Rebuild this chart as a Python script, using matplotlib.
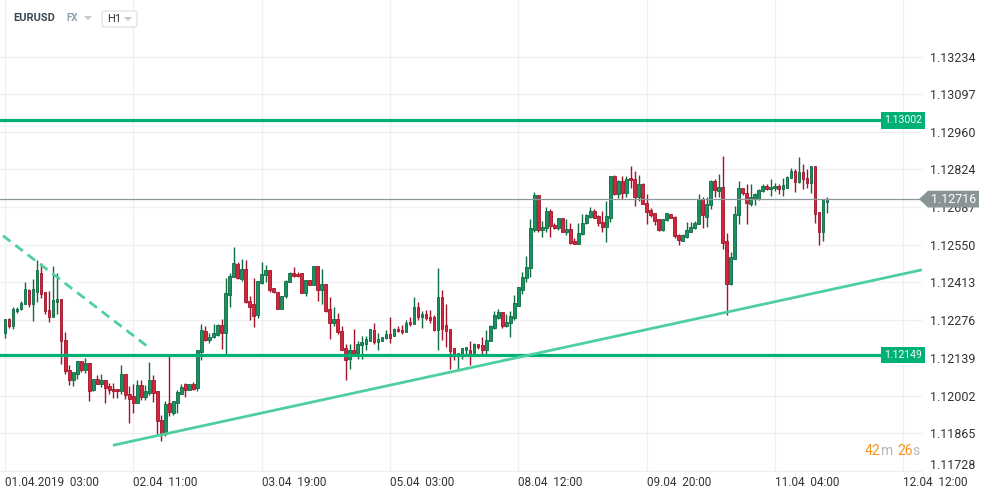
import matplotlib
matplotlib.use("Agg")
import matplotlib.pyplot as plt
import matplotlib.transforms as mtransforms
from matplotlib.patches import Polygon, FancyBboxPatch
import numpy as np

plt.rcParams['font.family'] = ['Roboto', 'DejaVu Sans']

# EURUSD H1 candles, 01.04.2019 03:00 onwards
opens = [
    1.12228, 1.12281, 1.12253, 1.12308, 1.12317, 1.12335, 1.12387, 1.12335, 1.12380, 1.12448,
    1.12377, 1.12313, 1.12287, 1.12341, 1.12353, 1.12205, 1.12096, 1.12059, 1.12081, 1.12126,
    1.12093, 1.12122, 1.12021, 1.12063, 1.12045, 1.12057, 1.12036, 1.12027, 1.12027, 1.12018,
    1.12079, 1.12009, 1.11999, 1.11975, 1.12039, 1.11997, 1.12011, 1.12057, 1.12017, 1.11912,
    1.11862, 1.11975, 1.11939, 1.11975, 1.12009, 1.12043, 1.12023, 1.12043, 1.12031, 1.12162,
    1.12238, 1.12204, 1.12214, 1.12222, 1.12257, 1.12230, 1.12367, 1.12432, 1.12480, 1.12426,
    1.12462, 1.12347, 1.12333, 1.12295, 1.12412, 1.12440, 1.12459, 1.12394, 1.12380, 1.12317,
    1.12365, 1.12414, 1.12448, 1.12444, 1.12448, 1.12375, 1.12422, 1.12404, 1.12474, 1.12386,
    1.12408, 1.12317, 1.12265, 1.12281, 1.12238, 1.12176, 1.12133, 1.12166, 1.12156, 1.12186,
    1.12190, 1.12202, 1.12241, 1.12196, 1.12202, 1.12212, 1.12224, 1.12217, 1.12244, 1.12241,
    1.12232, 1.12271, 1.12263, 1.12325, 1.12289, 1.12299, 1.12289, 1.12289, 1.12242, 1.12361,
    1.12257, 1.12244, 1.12174, 1.12148, 1.12152, 1.12168, 1.12166, 1.12156, 1.12188, 1.12184,
    1.12169, 1.12199, 1.12249, 1.12285, 1.12307, 1.12254, 1.12265, 1.12285, 1.12329, 1.12387,
    1.12428, 1.12464, 1.12603, 1.12732, 1.12604, 1.12611, 1.12673, 1.12623, 1.12611, 1.12647,
    1.12595, 1.12607, 1.12564, 1.12552, 1.12589, 1.12629, 1.12652, 1.12673, 1.12655, 1.12633,
    1.12616, 1.12649, 1.12800, 1.12734, 1.12782, 1.12740, 1.12794, 1.12788, 1.12725, 1.12770,
    1.12701, 1.12676, 1.12667, 1.12643, 1.12604, 1.12640, 1.12661, 1.12652, 1.12585, 1.12564,
    1.12580, 1.12598, 1.12611, 1.12625, 1.12716, 1.12651, 1.12695, 1.12782, 1.12746, 1.12760,
    1.12564, 1.12406, 1.12498, 1.12659, 1.12756, 1.12740, 1.12699, 1.12720, 1.12716, 1.12746,
    1.12764, 1.12752, 1.12756, 1.12764, 1.12752, 1.12758, 1.12792, 1.12820, 1.12779, 1.12814,
    1.12794, 1.12776, 1.12836, 1.12669, 1.12595, 1.12706,
]
closes = [
    1.12281, 1.12253, 1.12317, 1.12317, 1.12337, 1.12390, 1.12335, 1.12390, 1.12458, 1.12371,
    1.12308, 1.12287, 1.12349, 1.12353, 1.12199, 1.12090, 1.12059, 1.12087, 1.12126, 1.12096,
    1.12122, 1.12018, 1.12063, 1.12045, 1.12057, 1.12029, 1.12021, 1.12017, 1.12017, 1.12079,
    1.12005, 1.11991, 1.11975, 1.12039, 1.11997, 1.12017, 1.12057, 1.12011, 1.11909, 1.11862,
    1.11971, 1.11943, 1.11981, 1.12013, 1.12033, 1.12023, 1.12045, 1.12027, 1.12166, 1.12242,
    1.12204, 1.12216, 1.12230, 1.12257, 1.12230, 1.12375, 1.12438, 1.12484, 1.12430, 1.12462,
    1.12341, 1.12323, 1.12290, 1.12420, 1.12444, 1.12458, 1.12387, 1.12377, 1.12317, 1.12365,
    1.12417, 1.12448, 1.12438, 1.12435, 1.12375, 1.12422, 1.12404, 1.12474, 1.12386, 1.12408,
    1.12311, 1.12267, 1.12281, 1.12232, 1.12169, 1.12130, 1.12166, 1.12156, 1.12190, 1.12196,
    1.12208, 1.12244, 1.12196, 1.12208, 1.12216, 1.12224, 1.12212, 1.12244, 1.12235, 1.12232,
    1.12267, 1.12263, 1.12325, 1.12287, 1.12299, 1.12285, 1.12278, 1.12242, 1.12361, 1.12244,
    1.12235, 1.12163, 1.12152, 1.12156, 1.12176, 1.12180, 1.12154, 1.12188, 1.12178, 1.12169,
    1.12205, 1.12253, 1.12293, 1.12307, 1.12254, 1.12271, 1.12290, 1.12337, 1.12398, 1.12432,
    1.12470, 1.12611, 1.12732, 1.12604, 1.12615, 1.12673, 1.12619, 1.12611, 1.12647, 1.12595,
    1.12607, 1.12558, 1.12552, 1.12593, 1.12629, 1.12659, 1.12673, 1.12649, 1.12629, 1.12616,
    1.12655, 1.12800, 1.12734, 1.12782, 1.12740, 1.12788, 1.12785, 1.12725, 1.12770, 1.12697,
    1.12669, 1.12657, 1.12637, 1.12604, 1.12643, 1.12665, 1.12649, 1.12583, 1.12567, 1.12585,
    1.12603, 1.12615, 1.12631, 1.12716, 1.12659, 1.12697, 1.12782, 1.12748, 1.12760, 1.12558,
    1.12406, 1.12504, 1.12661, 1.12756, 1.12740, 1.12703, 1.12722, 1.12734, 1.12748, 1.12764,
    1.12752, 1.12760, 1.12764, 1.12752, 1.12767, 1.12796, 1.12820, 1.12779, 1.12814, 1.12788,
    1.12776, 1.12836, 1.12663, 1.12595, 1.12712, 1.12716,
]
highs = [
    1.12282, 1.12285, 1.12325, 1.12325, 1.12347, 1.12416, 1.12390, 1.12426, 1.12494, 1.12484,
    1.12377, 1.12383, 1.12474, 1.12448, 1.12353, 1.12234, 1.12112, 1.12087, 1.12126, 1.12126,
    1.12138, 1.12122, 1.12063, 1.12075, 1.12081, 1.12057, 1.12049, 1.12049, 1.12027, 1.12112,
    1.12079, 1.12035, 1.12045, 1.12057, 1.12057, 1.12039, 1.12123, 1.12075, 1.12017, 1.11931,
    1.11981, 1.12154, 1.11981, 1.12023, 1.12045, 1.12049, 1.12045, 1.12051, 1.12166, 1.12263,
    1.12253, 1.12228, 1.12261, 1.12261, 1.12281, 1.12428, 1.12446, 1.12542, 1.12489, 1.12498,
    1.12494, 1.12365, 1.12428, 1.12420, 1.12488, 1.12476, 1.12459, 1.12394, 1.12380, 1.12365,
    1.12423, 1.12450, 1.12470, 1.12450, 1.12448, 1.12422, 1.12422, 1.12474, 1.12474, 1.12462,
    1.12408, 1.12361, 1.12323, 1.12303, 1.12253, 1.12188, 1.12188, 1.12244, 1.12202, 1.12220,
    1.12220, 1.12244, 1.12265, 1.12228, 1.12216, 1.12241, 1.12289, 1.12248, 1.12253, 1.12257,
    1.12277, 1.12289, 1.12361, 1.12341, 1.12308, 1.12313, 1.12313, 1.12293, 1.12464, 1.12387,
    1.12333, 1.12244, 1.12174, 1.12156, 1.12176, 1.12180, 1.12202, 1.12192, 1.12188, 1.12214,
    1.12241, 1.12257, 1.12308, 1.12317, 1.12307, 1.12297, 1.12311, 1.12369, 1.12398, 1.12450,
    1.12510, 1.12643, 1.12743, 1.12732, 1.12637, 1.12687, 1.12679, 1.12631, 1.12647, 1.12647,
    1.12643, 1.12631, 1.12576, 1.12629, 1.12663, 1.12663, 1.12687, 1.12679, 1.12659, 1.12673,
    1.12709, 1.12800, 1.12804, 1.12785, 1.12800, 1.12800, 1.12836, 1.12818, 1.12804, 1.12776,
    1.12734, 1.12683, 1.12667, 1.12643, 1.12643, 1.12667, 1.12661, 1.12655, 1.12589, 1.12589,
    1.12633, 1.12633, 1.12637, 1.12736, 1.12724, 1.12722, 1.12785, 1.12788, 1.12808, 1.12873,
    1.12593, 1.12524, 1.12691, 1.12782, 1.12758, 1.12770, 1.12770, 1.12740, 1.12752, 1.12772,
    1.12770, 1.12788, 1.12776, 1.12770, 1.12794, 1.12800, 1.12830, 1.12824, 1.12869, 1.12844,
    1.12824, 1.12836, 1.12836, 1.12669, 1.12712, 1.12724,
]
lows = [
    1.12212, 1.12249, 1.12243, 1.12301, 1.12313, 1.12335, 1.12323, 1.12272, 1.12341, 1.12357,
    1.12297, 1.12269, 1.12287, 1.12297, 1.12118, 1.12081, 1.12039, 1.12036, 1.12063, 1.12089,
    1.12083, 1.11982, 1.12017, 1.12043, 1.12033, 1.11973, 1.12009, 1.11993, 1.11993, 1.12009,
    1.11991, 1.11902, 1.11937, 1.11975, 1.11985, 1.11987, 1.12003, 1.11979, 1.11862, 1.11837,
    1.11855, 1.11928, 1.11931, 1.11939, 1.12007, 1.11997, 1.12021, 1.12023, 1.12018, 1.12130,
    1.12199, 1.12192, 1.12212, 1.12220, 1.12172, 1.12152, 1.12323, 1.12432, 1.12426, 1.12420,
    1.12337, 1.12275, 1.12251, 1.12283, 1.12409, 1.12414, 1.12379, 1.12373, 1.12317, 1.12317,
    1.12357, 1.12414, 1.12432, 1.12432, 1.12375, 1.12365, 1.12402, 1.12404, 1.12344, 1.12335,
    1.12305, 1.12208, 1.12253, 1.12226, 1.12166, 1.12059, 1.12100, 1.12148, 1.12133, 1.12133,
    1.12169, 1.12199, 1.12190, 1.12166, 1.12199, 1.12208, 1.12192, 1.12217, 1.12232, 1.12224,
    1.12232, 1.12253, 1.12261, 1.12278, 1.12249, 1.12277, 1.12265, 1.12235, 1.12169, 1.12204,
    1.12180, 1.12100, 1.12130, 1.12100, 1.12136, 1.12148, 1.12112, 1.12148, 1.12172, 1.12148,
    1.12148, 1.12199, 1.12244, 1.12281, 1.12249, 1.12251, 1.12214, 1.12275, 1.12326, 1.12371,
    1.12414, 1.12432, 1.12595, 1.12595, 1.12580, 1.12595, 1.12580, 1.12607, 1.12603, 1.12595,
    1.12587, 1.12552, 1.12552, 1.12552, 1.12587, 1.12625, 1.12649, 1.12649, 1.12619, 1.12598,
    1.12561, 1.12633, 1.12732, 1.12720, 1.12718, 1.12722, 1.12758, 1.12691, 1.12709, 1.12697,
    1.12627, 1.12651, 1.12623, 1.12601, 1.12601, 1.12637, 1.12649, 1.12575, 1.12550, 1.12564,
    1.12575, 1.12595, 1.12607, 1.12625, 1.12611, 1.12613, 1.12679, 1.12722, 1.12724, 1.12534,
    1.12293, 1.12402, 1.12498, 1.12625, 1.12732, 1.12627, 1.12691, 1.12693, 1.12712, 1.12743,
    1.12748, 1.12728, 1.12746, 1.12736, 1.12728, 1.12758, 1.12792, 1.12743, 1.12776, 1.12752,
    1.12758, 1.12740, 1.12631, 1.12550, 1.12564, 1.12667,
]

price_ticks = [1.13234, 1.13097, 1.12960, 1.12824, 1.12687, 1.12550,
               1.12413, 1.12276, 1.12139, 1.12002, 1.11865, 1.11728]
time_idx = [0, 32, 64, 96, 128, 160, 192, 224]
time_labels = ['01.04.2019  03:00', '02.04  11:00', '03.04  19:00', '05.04  03:00',
               '08.04  12:00', '09.04  20:00', '11.04  04:00', '12.04  12:00']

levels = [1.13002, 1.12149]
last_price = 1.12716
trend_x = [26.9, 228.7]
trend_y = [1.11821, 1.12459]
dash_x = [-0.5, 35.4]
dash_y = [1.12583, 1.12182]

W, H = 991, 495
fig = plt.figure(figsize=(W / 100, H / 100), dpi=100)
fig.patch.set_facecolor('white')

def fx(x):
    return x / W

def fy(y):
    return 1 - y / H

ax_bottom = 471.7
ax_right = 922
ax = fig.add_axes([0, fy(ax_bottom), fx(ax_right), 1 - fy(ax_bottom)])
ax.set_xlim(-1.247, 228.7)
ax.set_ylim(1.11725, 1.13440)
for s in ax.spines.values():
    s.set_visible(False)

# grid + ticks
ax.set_yticks(price_ticks)
ax.set_yticklabels(['%.5f' % p for p in price_ticks])
ax.yaxis.tick_right()
ax.tick_params(axis='y', length=0, pad=6, labelsize=9, labelcolor='#333333')
# bottom price label sits a little higher, like the original
last_lab = ax.get_yticklabels()[-1]
last_lab.set_transform(last_lab.get_transform() +
                       mtransforms.ScaledTranslation(0, 5 / 72, fig.dpi_scale_trans))
ax.set_xticks(time_idx)
ax.set_xticklabels(time_labels)
ax.tick_params(axis='x', length=0, pad=3, labelsize=8.5, labelcolor='#333333')
for lab in ax.get_xticklabels():
    lab.set_ha('left')
ax.grid(True, color='#f0f0f0', lw=1)
ax.set_axisbelow(True)

# candles
x = np.arange(len(opens))
o = np.array(opens)
c = np.array(closes)
up = c >= o
body_fill = np.where(up, '#1a9161', '#d4263d')
body_edge = np.where(up, '#0d6a42', '#a0142a')
ax.vlines(x, lows, highs, colors=body_edge, lw=1, zorder=2)
bottoms = np.minimum(o, c)
heights = np.maximum(np.abs(c - o), 0.00002)
ax.bar(x, heights, bottom=bottoms, width=0.68, color=body_fill,
       edgecolor=body_edge, linewidth=0.6, zorder=3)

# horizontal levels
for lv in levels:
    ax.axhline(lv, color='#00b074', lw=2.3, zorder=4)
    ax.text(0.9995, lv, '%.5f' % lv, transform=ax.get_yaxis_transform(),
            ha='right', va='center', color='white', fontsize=7.5, zorder=6,
            bbox=dict(boxstyle='square,pad=0.3', fc='#00b074', ec='none'))

# trend lines
ax.plot(trend_x, trend_y, color='#4fcf9f', lw=2, zorder=4, solid_capstyle='butt')
ln, = ax.plot(dash_x, dash_y, color='#4fcf9f', lw=2, zorder=4)
ln.set_dashes((3.4, 2.2))

# last price line and label
ax.axhline(last_price, color='#8c979b', lw=0.9, zorder=4)
bt = mtransforms.blended_transform_factory(ax.transAxes, ax.transData)
half = 0.000305
tip = 919 / ax_right
bl = 928 / ax_right
br = 979 / ax_right
poly = Polygon([(tip, last_price), (bl, last_price + half), (br, last_price + half),
                (br, last_price - half), (bl, last_price - half)],
               closed=True, transform=bt, fc='#8a9497', ec='none',
               clip_on=False, zorder=10)
ax.add_patch(poly)
ax.text((bl + br) / 2, last_price, '%.5f' % last_price, transform=bt, ha='center',
        va='center', color='white', fontsize=9, zorder=11, clip_on=False)

# header
fig.text(fx(13), fy(18), 'EURUSD', fontsize=8, fontweight='bold', color='#3b4a54',
         va='center', ha='left')
fig.text(fx(66), fy(18), 'FX', fontsize=7, fontweight='bold', color='#8fa0aa',
         va='center', ha='left')
def tri(cx, cy, col):
    fig.patches.append(Polygon([(fx(cx - 4), fy(cy - 2)), (fx(cx + 4), fy(cy - 2)),
                                (fx(cx), fy(cy + 2))], closed=True,
                               transform=fig.transFigure, fc=col, ec='none'))
tri(88, 18, '#c8c8c8')
fig.patches.append(FancyBboxPatch((fx(102), fy(27)), fx(35), fy(11) - fy(27),
                                  boxstyle='round,pad=0,rounding_size=0.004',
                                  transform=fig.transFigure, fc='white',
                                  ec='#dddddd', lw=0.8))
fig.text(fx(107), fy(19), 'H1', fontsize=8, color='#333333', va='center', ha='left')
tri(128, 19, '#c8c8c8')

# countdown, pieces placed one after another
renderer = fig.canvas.get_renderer()
cur = 865
for part, col in [('42', '#f7931e'), ('m', '#b5b5b5'), (' ', '#b5b5b5'),
                  ('26', '#f7931e'), ('s', '#b5b5b5')]:
    t = fig.text(fx(cur), fy(451), part, fontsize=10, color=col, va='center', ha='left')
    cur += t.get_window_extent(renderer).width if part.strip() else 4

fig.savefig('out.png', dpi=100)
